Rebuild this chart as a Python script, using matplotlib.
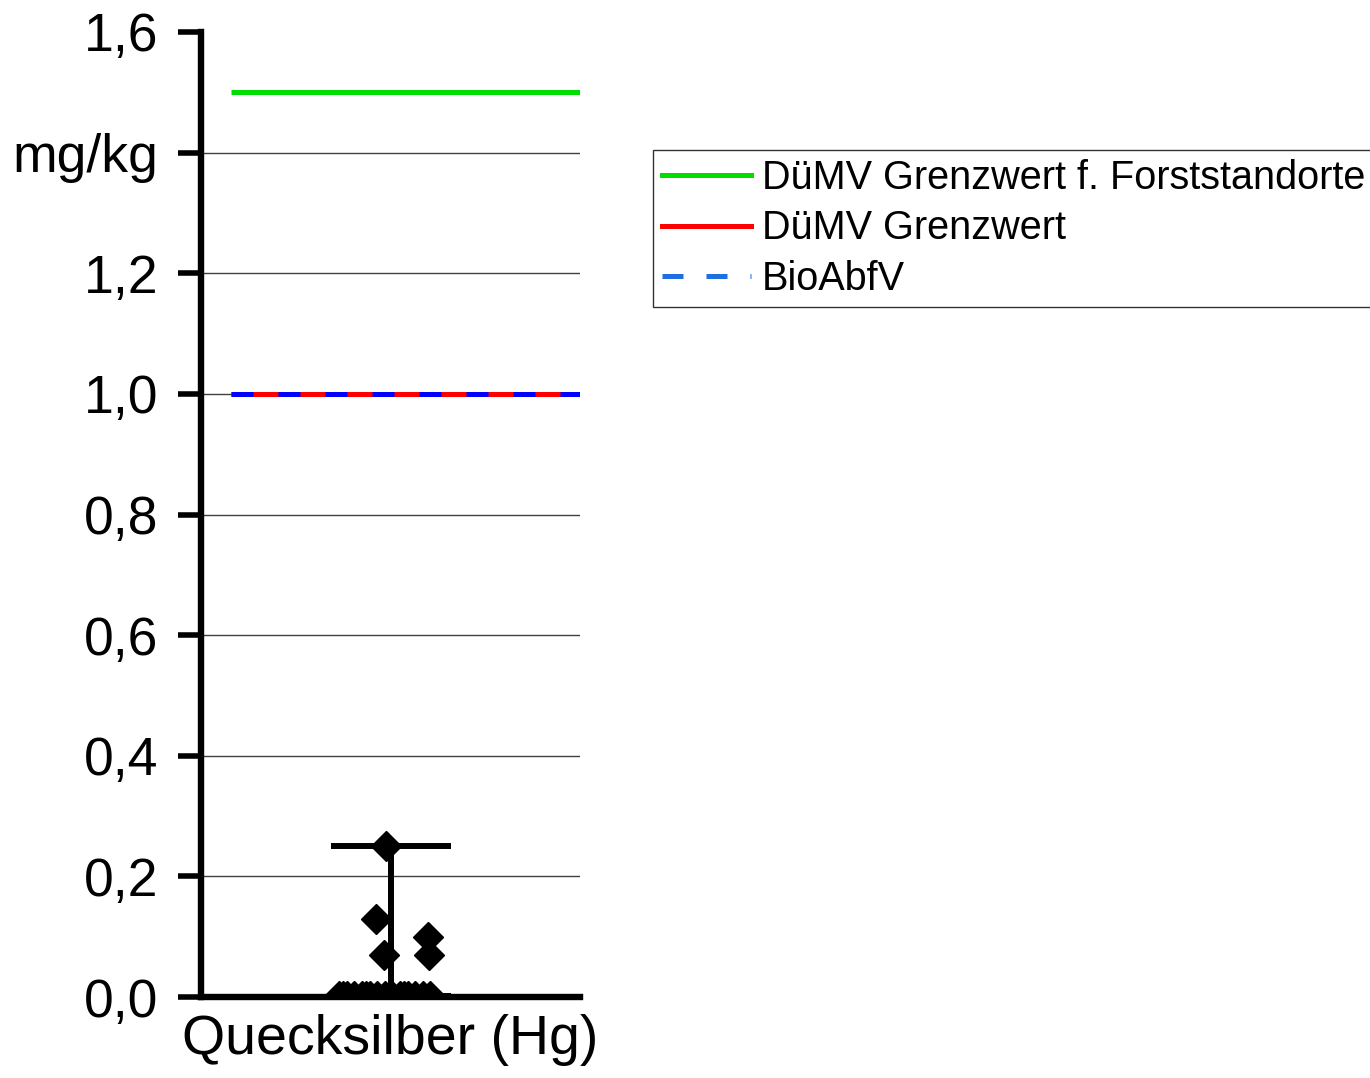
import numpy as np
import matplotlib
matplotlib.use("Agg")
import matplotlib.pyplot as plt
from matplotlib.lines import Line2D

plt.rcParams['font.family'] = ['Liberation Sans', 'DejaVu Sans']

category = "Quecksilber (Hg)"
# individual sample values (mg/kg) and their horizontal jitter
values = [0.25, 0.13, 0.07, 0.10, 0.07,
          0.002, 0.002, 0.002, 0.002, 0.002, 0.002, 0.002, 0.002,
          0.002, 0.002, 0.002, 0.002, 0.002, 0.002, 0.002, 0.002]
jitter = [-0.012, -0.038, -0.017, 0.099, 0.101,
          -0.135, -0.115, -0.095, -0.075, -0.055, -0.035, -0.015, 0.005,
          0.025, 0.045, 0.065, 0.085, 0.105, -0.125, 0.035, -0.065]
limit_forst = 1.5   # DüMV Grenzwert f. Forststandorte
limit_duemv = 1.0   # DüMV Grenzwert
limit_bioabfv = 1.0 # BioAbfV
yticks = [0.0, 0.2, 0.4, 0.6, 0.8, 1.0, 1.2, 1.4, 1.6]
yticklabels = ["0,0", "0,2", "0,4", "0,6", "0,8", "1,0", "1,2", "mg/kg", "1,6"]

fig = plt.figure(figsize=(13.70, 10.78), dpi=100)
ax = fig.add_axes([201/1370, 81/1078, 379/1370, 965/1078])
ax.set_xlim(-0.5, 0.5)
ax.set_ylim(0, 1.6)

# gridlines
for t in yticks[1:-1]:
    ax.axhline(t, color='#404040', lw=1.0, zorder=1)

# limit lines
ax.hlines(limit_forst, -0.42, 0.5, color='#00dd00', lw=3.6, zorder=3)
ax.hlines(limit_duemv, -0.42, 0.5, color='#ff0000', lw=3.6, zorder=3)
ax.hlines(limit_bioabfv, -0.42, 0.5, color='#0000ff', lw=3.6, zorder=4,
          linestyles=(0, (4.4, 5.0)))

vals = np.array(values)
med = np.median(vals)
# median line
ax.hlines(med, -0.317, 0.317, color='black', lw=3.5, zorder=8)
# range error bar
ax.errorbar([0.0], [med], yerr=[[med - vals.min()], [vals.max() - med]],
            fmt='none', ecolor='black', elinewidth=4.3, capsize=43, capthick=4.3, zorder=5)
# points
ax.plot(jitter, vals, linestyle='none', marker='D', markersize=15,
        color='black', zorder=6)

ax.set_yticks(yticks)
ax.set_yticklabels(yticklabels)
ax.set_xticks([0.0])
ax.set_xticklabels([category])
ax.tick_params(axis='y', length=16.5, width=4, labelsize=38.5, pad=14, direction='out')
ax.tick_params(axis='x', length=0, labelsize=40, pad=12)
for s in ['top', 'right']:
    ax.spines[s].set_visible(False)
for s in ['left', 'bottom']:
    ax.spines[s].set_linewidth(4.6)
    ax.spines[s].set_zorder(7)

handles = [Line2D([], [], color='#00dd00', lw=3.6),
           Line2D([], [], color='#ff0000', lw=3.6),
           Line2D([], [], color='#1e6fe0', lw=3.6, linestyle=(0, (4.2, 4.6)))]
labels = ["DüMV Grenzwert f. Forststandorte", "DüMV Grenzwert", "BioAbfV"]
leg = fig.legend(handles, labels, loc='upper left',
                 bbox_to_anchor=(653/1370, 1 - 150/1078), fontsize=28.5,
                 frameon=True, fancybox=False, edgecolor='black',
                 handlelength=2.25, handletextpad=0.28, borderpad=0.22,
                 labelspacing=0.32, borderaxespad=0)
leg.get_frame().set_linewidth(1.0)

fig.savefig('out.png', dpi=100)
